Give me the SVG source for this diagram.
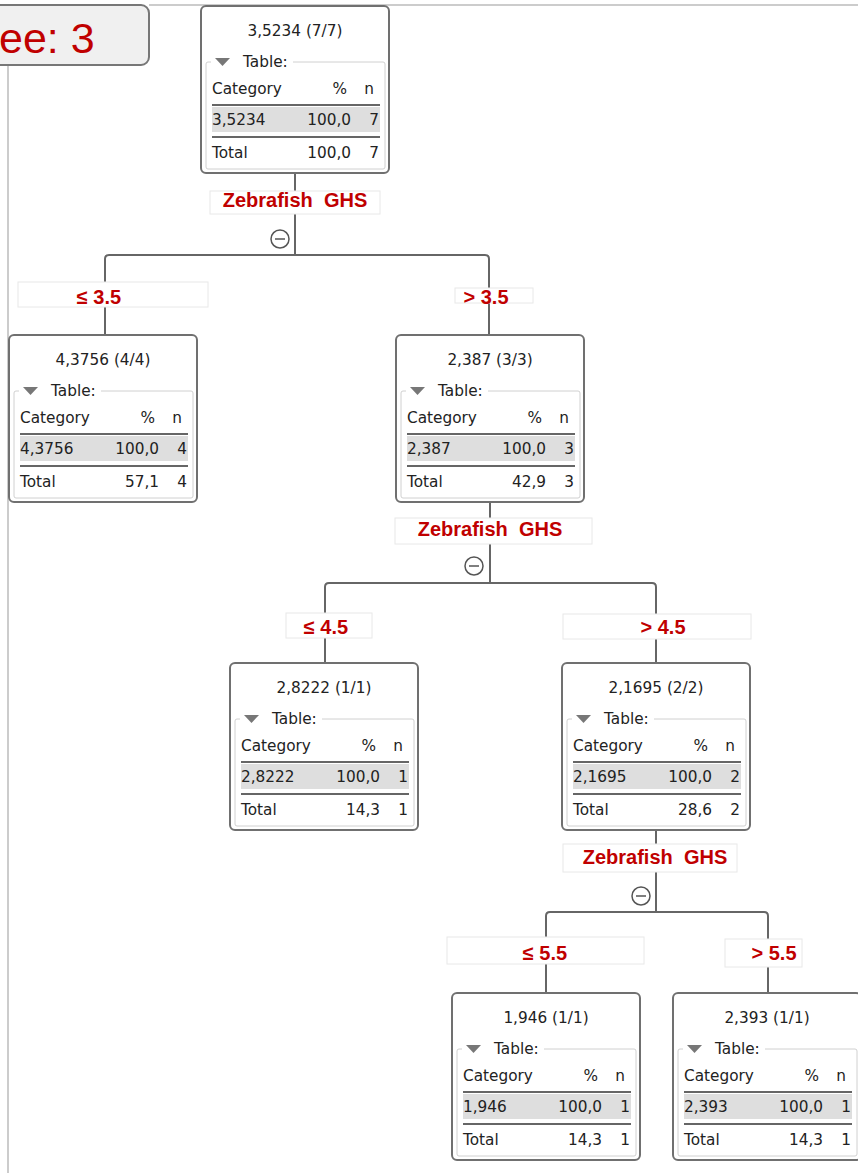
<svg xmlns="http://www.w3.org/2000/svg" width="858" height="1175" viewBox="0 0 858 1175">
<style>
.bg{fill:#fff}
.frame{stroke:#bbb;stroke-width:1.5;fill:none}
.title{fill:#f0f0f0;stroke:#777;stroke-width:2}
.titletxt{font-family:"Liberation Sans",Arial,sans-serif;font-size:43px;fill:#c00000}
.box{fill:#fff;stroke:#707070;stroke-width:2}
.fs{fill:none;stroke:#d0d0d0;stroke-width:1}
.tri{fill:#777}
.t{font-family:"DejaVu Sans","Liberation Sans",sans-serif;font-size:15.3px;fill:#222}
.r{text-anchor:end}
.m{text-anchor:middle}
.sep{stroke:#666;stroke-width:2}
.row{fill:#dedede}
.conn{fill:none;stroke:#666;stroke-width:2}
.lbl{fill:#fff;stroke:#e8e8e8;stroke-width:1}
.lt{font-family:"Liberation Sans",Arial,sans-serif;font-size:20px;font-weight:bold;fill:#c00000;text-anchor:middle;white-space:pre}
.tog{fill:#fff;stroke:#555;stroke-width:1.5}
.togm{stroke:#555;stroke-width:1.5}
</style>
<defs>
<g id="tbl">
<rect class="box" x="0" y="0" width="188" height="167" rx="5"/>
<path class="fs" d="M10,56 H7 Q5,56 5,58 V161 Q5,163 7,163 H182 Q184,163 184,161 V58 Q184,56 182,56 H92"/>
<polygon class="tri" points="14,52 29,52 21.5,60"/>
<text class="t" x="42" y="61">Table:</text>
<text class="t" x="11" y="88">Category</text>
<text class="t r" x="146" y="88">%</text>
<text class="t r" x="173" y="88">n</text>
<line class="sep" x1="11" y1="99" x2="179" y2="99"/>
<rect class="row" x="11" y="101" width="168" height="25"/>
<line class="sep" x1="11" y1="131" x2="179" y2="131"/>
<text class="t" x="11" y="152">Total</text>
</g>
</defs>
<rect class="bg" x="0" y="0" width="858" height="1175"/>
<line class="frame" x1="149" y1="5" x2="858" y2="5"/>
<line class="frame" x1="8" y1="65" x2="8" y2="1173"/>
<g id="title">
<rect class="title" x="-12" y="5" width="161" height="60" rx="8"/>
<text class="titletxt" x="-1" y="53">ee: 3</text>
</g>
<g id="connectors">
<path class="conn" d="M295,173 V255"/>
<path class="conn" d="M105,335 V259 Q105,255 109,255 H485 Q489,255 489,259 V335"/>
<path class="conn" d="M490,502 V583"/>
<path class="conn" d="M325,663 V587 Q325,583 329,583 H652 Q656,583 656,587 V663"/>
<path class="conn" d="M656,831 V912"/>
<path class="conn" d="M546,993 V916 Q546,912 550,912 H764 Q768,912 768,916 V993"/>
<rect class="lbl" x="210" y="191" width="170" height="23"/>
<text class="lt" x="295" y="207">Zebrafish  GHS</text>
<circle class="tog" cx="280" cy="239" r="9"/><line class="togm" x1="275" y1="239" x2="285" y2="239"/>
<rect class="lbl" x="18" y="282" width="190" height="25"/>
<text class="lt" x="99" y="304">≤ 3.5</text>
<rect class="lbl" x="455" y="288" width="78" height="15"/>
<text class="lt" x="486" y="304">&gt; 3.5</text>
<rect class="lbl" x="395" y="518" width="197" height="26"/>
<text class="lt" x="490" y="536">Zebrafish  GHS</text>
<circle class="tog" cx="474" cy="566" r="9"/><line class="togm" x1="469" y1="566" x2="479" y2="566"/>
<rect class="lbl" x="286" y="613" width="86" height="25"/>
<text class="lt" x="326" y="634">≤ 4.5</text>
<rect class="lbl" x="563" y="614" width="188" height="25"/>
<text class="lt" x="663" y="634">&gt; 4.5</text>
<rect class="lbl" x="563" y="844" width="174" height="28"/>
<text class="lt" x="655" y="864">Zebrafish  GHS</text>
<circle class="tog" cx="641" cy="896" r="9"/><line class="togm" x1="636" y1="896" x2="646" y2="896"/>
<rect class="lbl" x="447" y="937" width="197" height="27"/>
<text class="lt" x="545" y="960">≤ 5.5</text>
<rect class="lbl" x="725" y="939" width="77" height="28"/>
<text class="lt" x="774" y="960">&gt; 5.5</text>
</g>
<g id="n1" transform="translate(201,6)">
<use href="#tbl"/>
<text class="t m" x="94" y="30">3,5234 (7/7)</text>
<text class="t" x="11" y="119">3,5234</text><text class="t r" x="150" y="119">100,0</text><text class="t r" x="178" y="119">7</text>
<text class="t r" x="150" y="152">100,0</text><text class="t r" x="178" y="152">7</text>
</g>
<g id="n2" transform="translate(9,335)">
<use href="#tbl"/>
<text class="t m" x="94" y="30">4,3756 (4/4)</text>
<text class="t" x="11" y="119">4,3756</text><text class="t r" x="150" y="119">100,0</text><text class="t r" x="178" y="119">4</text>
<text class="t r" x="150" y="152">57,1</text><text class="t r" x="178" y="152">4</text>
</g>
<g id="n3" transform="translate(396,335)">
<use href="#tbl"/>
<text class="t m" x="94" y="30">2,387 (3/3)</text>
<text class="t" x="11" y="119">2,387</text><text class="t r" x="150" y="119">100,0</text><text class="t r" x="178" y="119">3</text>
<text class="t r" x="150" y="152">42,9</text><text class="t r" x="178" y="152">3</text>
</g>
<g id="n4" transform="translate(230,663)">
<use href="#tbl"/>
<text class="t m" x="94" y="30">2,8222 (1/1)</text>
<text class="t" x="11" y="119">2,8222</text><text class="t r" x="150" y="119">100,0</text><text class="t r" x="178" y="119">1</text>
<text class="t r" x="150" y="152">14,3</text><text class="t r" x="178" y="152">1</text>
</g>
<g id="n5" transform="translate(562,663)">
<use href="#tbl"/>
<text class="t m" x="94" y="30">2,1695 (2/2)</text>
<text class="t" x="11" y="119">2,1695</text><text class="t r" x="150" y="119">100,0</text><text class="t r" x="178" y="119">2</text>
<text class="t r" x="150" y="152">28,6</text><text class="t r" x="178" y="152">2</text>
</g>
<g id="n6" transform="translate(452,993)">
<use href="#tbl"/>
<text class="t m" x="94" y="30">1,946 (1/1)</text>
<text class="t" x="11" y="119">1,946</text><text class="t r" x="150" y="119">100,0</text><text class="t r" x="178" y="119">1</text>
<text class="t r" x="150" y="152">14,3</text><text class="t r" x="178" y="152">1</text>
</g>
<g id="n7" transform="translate(673,993)">
<use href="#tbl"/>
<text class="t m" x="94" y="30">2,393 (1/1)</text>
<text class="t" x="11" y="119">2,393</text><text class="t r" x="150" y="119">100,0</text><text class="t r" x="178" y="119">1</text>
<text class="t r" x="150" y="152">14,3</text><text class="t r" x="178" y="152">1</text>
</g>
</svg>
